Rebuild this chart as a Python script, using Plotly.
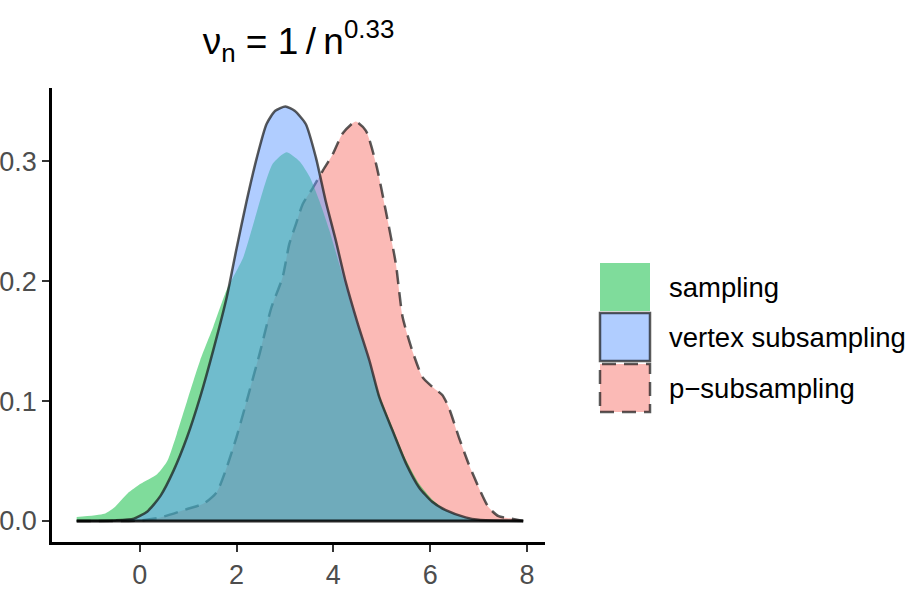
import plotly.graph_objects as go

# densités
x_sampling = [-1.3, -0.73, -0.53, -0.25, 0.02, 0.36, 0.57, 0.77, 0.98, 1.25, 1.52, 1.8, 2.14, 2.35, 2.55, 2.75,
              3.03, 3.3, 3.51, 3.71, 3.92, 4.12, 4.4, 4.7, 4.95, 5.22, 5.5, 5.77, 6.04, 6.32, 6.7, 7.0, 7.92]
y_sampling = [0.0033, 0.006, 0.011, 0.023, 0.031, 0.039, 0.05, 0.073, 0.1, 0.134, 0.162, 0.193, 0.22, 0.248, 0.276, 0.298,
              0.3075, 0.30, 0.287, 0.267, 0.242, 0.2145, 0.175, 0.137, 0.105, 0.078, 0.051, 0.031, 0.018, 0.009, 0.003, 0.0008, 0.0]

x_vertex = [-1.3, -0.5, -0.12, 0.16, 0.43, 0.7, 0.98, 1.25, 1.52, 1.8, 2.0, 2.21, 2.42, 2.62, 2.8, 3.01, 3.2, 3.43,
            3.64, 3.84, 4.05, 4.25, 4.5, 4.75, 4.95, 5.22, 5.5, 5.77, 6.04, 6.32, 6.73, 7.0, 7.92]
y_vertex = [0.0, 0.0005, 0.002, 0.008, 0.021, 0.042, 0.07, 0.1035, 0.1425, 0.187, 0.227, 0.267, 0.303, 0.331, 0.342, 0.3456, 0.342, 0.331,
            0.303, 0.267, 0.234, 0.2, 0.165, 0.133, 0.103, 0.0756, 0.048, 0.028, 0.016, 0.009, 0.003, 0.001, 0.0]

x_p = [-1.3, 0.0, 0.43, 0.98, 1.32, 1.59, 1.8, 2.0, 2.21, 2.48, 2.72, 2.95, 3.09, 3.23, 3.37, 3.58, 3.78, 3.99, 4.19,
       4.46, 4.67, 4.88, 5.08, 5.29, 5.43, 5.63, 5.84, 6.04, 6.25, 6.38, 6.59, 6.79, 7.0, 7.2, 7.41, 7.68, 7.92]
y_p = [0.0, 0.0005, 0.003, 0.010, 0.0145, 0.024, 0.045, 0.07, 0.1, 0.14, 0.178, 0.203, 0.231, 0.248, 0.2645, 0.278, 0.292, 0.306, 0.323,
       0.333, 0.3255, 0.298, 0.259, 0.2145, 0.17, 0.142, 0.12, 0.112, 0.105, 0.095, 0.07, 0.048, 0.028, 0.0117, 0.004, 0.002, 0.0]

noms = ['sampling', 'vertex subsampling', 'p\u2212subsampling']
couleurs = ['rgba(0,186,56,0.5)', 'rgba(97,156,255,0.5)', 'rgba(248,118,109,0.5)']
contour = 'rgba(20,20,20,0.7)'
tiret_long = '14px,8px'

figure = go.Figure()

# ordre de dessin : p-subsampling, sampling, vertex subsampling
series = [
    (x_p, y_p, couleurs[2], tiret_long),
    (x_sampling, y_sampling, couleurs[0], None),
    (x_vertex, y_vertex, couleurs[1], 'solid'),
]
for xs, ys, c, tiret in series:
    figure.add_trace(go.Scatter(
        x=xs, y=ys, mode='lines', fill='tozeroy', fillcolor=c,
        line=dict(color=contour if tiret else 'rgba(0,0,0,0)', width=2.5 if tiret else 0,
                  dash=tiret or 'solid', shape='spline', smoothing=0.6),
        showlegend=False, hoverinfo='skip'))

# ligne de base des densités
figure.add_trace(go.Scatter(x=[min(x_vertex + x_p), max(x_vertex + x_p)], y=[0, 0], mode='lines',
                            line=dict(color='rgba(0,0,0,0.85)', width=2.8), showlegend=False, hoverinfo='skip'))

W, H = 909, 598
L, R, T, B = 52, 545, 88, 542  # panneau en pixels


def px_x(p):
    return (p - L) / (R - L)


def px_y(p):
    return (B - p) / (B - T)


# légende dessinée à la main
boites = [(263, 311), (313, 361), (364, 412)]
tirets = [None, 'solid', tiret_long]
for nom, c, (haut, bas), tiret in zip(noms, couleurs, boites, tirets):
    figure.add_shape(type='rect', xref='paper', yref='paper',
                     x0=px_x(600), x1=px_x(650), y0=px_y(bas), y1=px_y(haut),
                     fillcolor=c,
                     line=dict(color=contour if tiret else 'rgba(0,0,0,0)', width=2.5 if tiret else 0,
                               dash=tiret or 'solid'))
    figure.add_annotation(xref='paper', yref='paper', x=px_x(667), y=px_y((haut + bas) / 2),
                          text=nom, showarrow=False, xanchor='left', yanchor='middle',
                          font=dict(size=27.5, color='black'))

figure.update_layout(
    width=W, height=H,
    margin=dict(l=L, r=W - R, t=T, b=H - B),
    plot_bgcolor='white', paper_bgcolor='white',
    font=dict(family='Liberation Sans, Arial, sans-serif'),
    title=dict(text='\u03bd<sub>n</sub> = 1\u2009/\u2009n<sup>0.33</sup>', x=0.5, xref='paper', xanchor='center',
               yref='container', y=1 - 41 / H, yanchor='middle', font=dict(size=37, color='black')),
    showlegend=False,
)
axe = dict(showgrid=False, zeroline=False, showline=True, linecolor='black', linewidth=2.5,
           ticks='outside', ticklen=7, tickwidth=2.2, tickcolor='#333333', automargin=False,
           tickfont=dict(size=27, color='#4D4D4D'))
figure.update_xaxes(range=[-1.81, 8.37], tickvals=[0, 2, 4, 6, 8], **axe)
figure.update_yaxes(range=[-0.0175, 0.361], tickvals=[0, 0.1, 0.2, 0.3], ticktext=['0.0', '0.1', '0.2', '0.3'], **axe)

# la page sans marge autour du graphique
figure.write_html('out.html', config={'displayModeBar': False},
                  post_script="document.body.style.margin='0px';")
print('out.html généré avec succès !')
